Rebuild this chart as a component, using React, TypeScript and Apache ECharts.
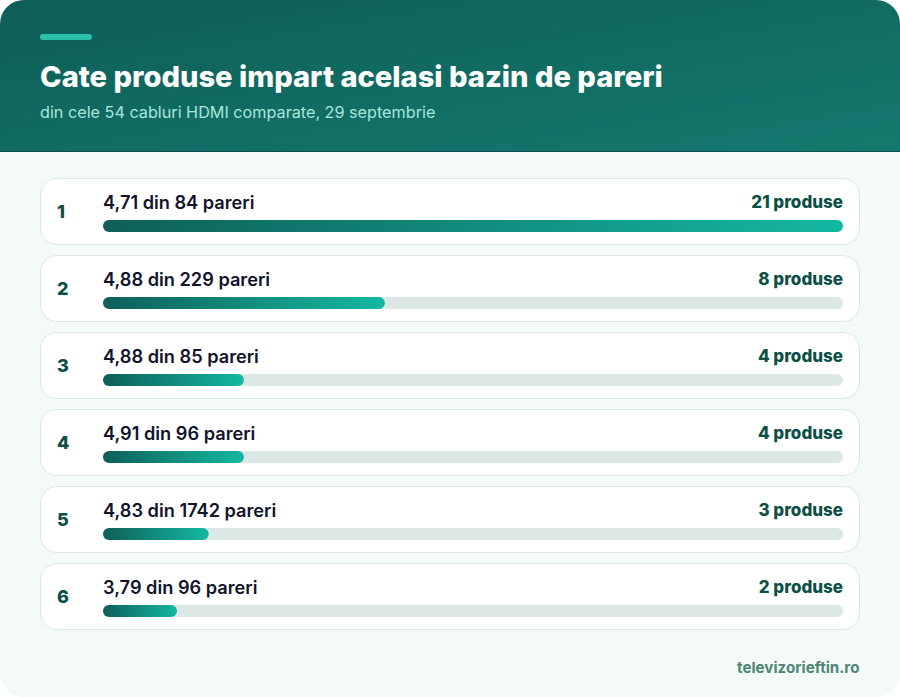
import { useEffect, useRef } from 'react';
import * as echarts from 'echarts';

const ranks = ['1', '2', '3', '4', '5', '6'];
const ratings = ['4,71', '4,88', '4,88', '4,91', '4,83', '3,79'];
const reviews = [84, 229, 85, 96, 1742, 96];
const products = [21, 8, 4, 4, 3, 2];
const maxProducts = 21;

const title = 'Cate produse impart acelasi bazin de pareri';
const subtitle = 'din cele 54 cabluri HDMI comparate, 29 septembrie';
const footer = 'televizorieftin.ro';

const FONT = 'Inter';

const App = () => {
  const chartDom = useRef<HTMLDivElement | null>(null);

  useEffect(() => {
    document.body.style.margin = '0';
    if (chartDom.current) {
      const myChart = echarts.init(chartDom.current, null, { renderer: 'svg' });

      const cards = ranks.map((_, i) => ({
        type: 'rect',
        z: -10,
        shape: { x: 40.5, y: 178.5 + i * 77, width: 819, height: 66, r: 16 },
        style: { fill: '#ffffff', stroke: '#dde7e4', lineWidth: 1 },
      }));

      const option = {
        animation: false,
        backgroundColor: 'transparent',
        graphic: {
          elements: [
            {
              type: 'rect',
              z: -20,
              shape: { x: 0, y: 0, width: 900, height: 697, r: 24 },
              style: { fill: '#f3faf8' },
            },
            {
              type: 'rect',
              z: -15,
              shape: { x: 0, y: 0, width: 900, height: 152, r: [24, 24, 0, 0] },
              style: {
                fill: new echarts.graphic.LinearGradient(0, 0, 1, 1, [
                  { offset: 0, color: '#0e5d58' },
                  { offset: 1, color: '#14796e' },
                ]),
              },
            },
            {
              type: 'rect',
              z: -14,
              shape: { x: 0, y: 151, width: 900, height: 1 },
              style: { fill: '#0b524a' },
            },
            {
              type: 'rect',
              z: -14,
              shape: { x: 40, y: 34, width: 52, height: 6, r: 3 },
              style: { fill: '#2cc0ab' },
            },
            {
              type: 'text',
              z: 5,
              x: 40,
              y: 76.5,
              style: {
                text: title,
                fill: '#ffffff',
                font: `800 29.1px ${FONT}`,
                textAlign: 'left',
                textVerticalAlign: 'middle',
              },
            },
            {
              type: 'text',
              z: 5,
              x: 40,
              y: 112,
              style: {
                text: subtitle,
                fill: '#a8e6da',
                font: `400 16.2px ${FONT}`,
                textAlign: 'left',
                textVerticalAlign: 'middle',
              },
            },
            {
              type: 'text',
              z: 5,
              x: 859.5,
              y: 667.5,
              style: {
                text: footer,
                fill: '#4f8577',
                font: `700 15.2px ${FONT}`,
                textAlign: 'right',
                textVerticalAlign: 'middle',
              },
            },
            ...cards,
          ],
        },
        grid: { left: 103, right: 57, top: 187.5, height: 462 },
        xAxis: { type: 'value', min: 0, max: maxProducts, show: false },
        yAxis: {
          type: 'category',
          inverse: true,
          data: ranks,
          axisLine: { show: false },
          axisTick: { show: false },
          axisLabel: {
            align: 'left',
            margin: 46,
            formatter: (v: string) => `{num|${v}}\n{gap| }`,
            rich: {
              num: {
                color: '#0b4f46',
                fontFamily: FONT,
                fontSize: 18,
                fontWeight: 800,
                lineHeight: 22,
              },
              gap: { fontSize: 10, lineHeight: 30 },
            },
          },
        },
        series: [
          {
            name: 'track',
            type: 'bar',
            barWidth: 12,
            barGap: '-100%',
            silent: true,
            data: products.map(() => maxProducts),
            itemStyle: { color: '#dce8e5', borderRadius: 6 },
            label: {
              show: true,
              position: 'insideRight',
              distance: 0,
              offset: [0, -24.5],
              color: '#0b4f46',
              fontFamily: FONT,
              fontSize: 17,
              fontWeight: 800,
              formatter: (p: { dataIndex: number }) => `${products[p.dataIndex]} produse`,
            },
          },
          {
            name: 'produse',
            type: 'bar',
            barWidth: 12,
            barMinHeight: 74,
            data: products,
            itemStyle: {
              borderRadius: 6,
              color: new echarts.graphic.LinearGradient(0, 0, 1, 0, [
                { offset: 0, color: '#0e5f58' },
                { offset: 1, color: '#14b8a2' },
              ]),
            },
            label: {
              show: true,
              position: 'insideLeft',
              distance: 0,
              offset: [0, -24.5],
              color: '#12142b',
              fontFamily: FONT,
              fontSize: 18.2,
              fontWeight: 600,
              formatter: (p: { dataIndex: number }) =>
                `${ratings[p.dataIndex]} din ${reviews[p.dataIndex]} pareri`,
            },
          },
        ],
      };

      myChart.setOption(option);

      return () => {
        myChart.dispose();
      };
    }
  }, []);

  return <div ref={chartDom} style={{ width: 900, height: 697 }} />;
};

export default App;
